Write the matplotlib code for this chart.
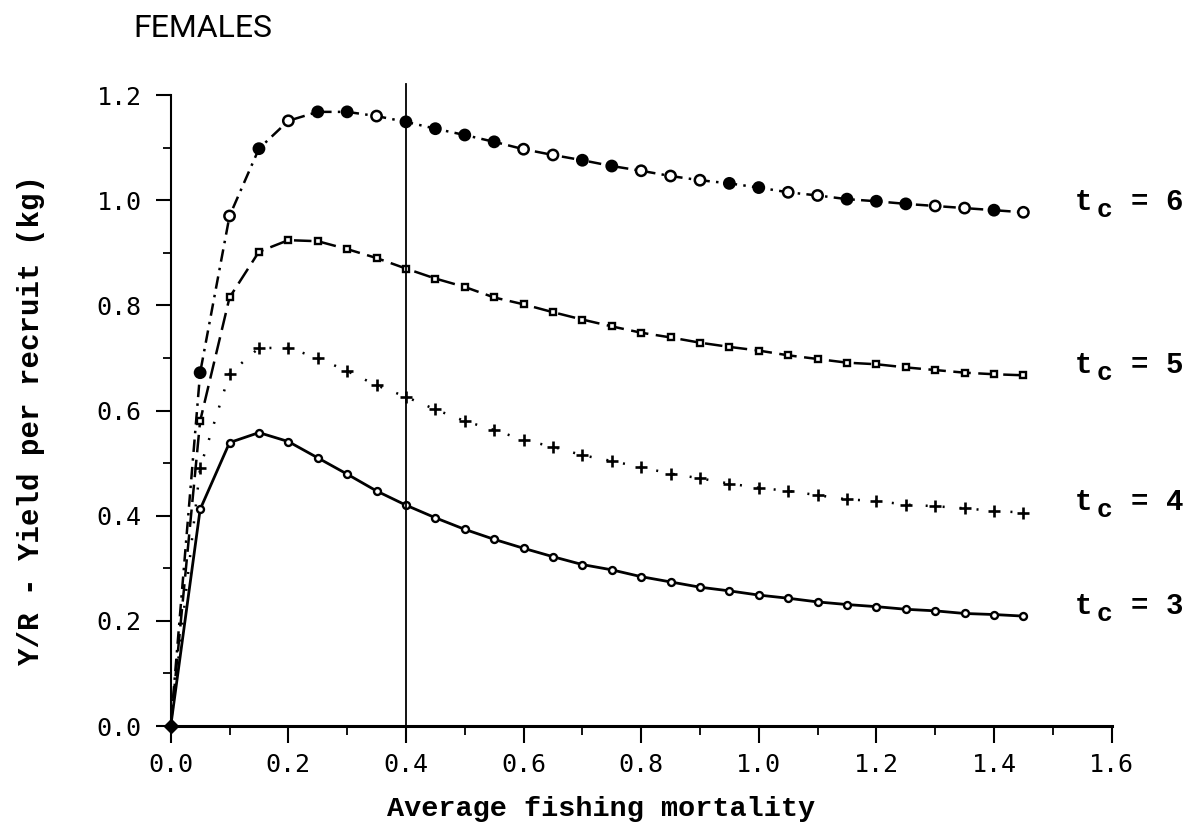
import matplotlib
matplotlib.use("Agg")
import matplotlib.pyplot as plt
from matplotlib.ticker import MultipleLocator
from matplotlib.transforms import offset_copy

# fishing mortality grid (x) and yield per recruit for each age at first capture
F = [0.00, 0.05, 0.10, 0.15, 0.20, 0.25, 0.30, 0.35, 0.40, 0.45,
     0.50, 0.55, 0.60, 0.65, 0.70, 0.75, 0.80, 0.85, 0.90, 0.95,
     1.00, 1.05, 1.10, 1.15, 1.20, 1.25, 1.30, 1.35, 1.40, 1.45]

yr_tc6 = [0, 0.672, 0.970, 1.098, 1.151, 1.168, 1.168, 1.160, 1.149, 1.136,
          1.124, 1.111, 1.097, 1.086, 1.076, 1.065, 1.056, 1.046, 1.038, 1.032,
          1.024, 1.015, 1.009, 1.002, 0.998, 0.993, 0.989, 0.985, 0.981, 0.977]
yr_tc5 = [0, 0.580, 0.815, 0.902, 0.924, 0.922, 0.907, 0.890, 0.870, 0.851,
          0.835, 0.815, 0.802, 0.787, 0.773, 0.760, 0.748, 0.739, 0.729, 0.721,
          0.714, 0.705, 0.698, 0.691, 0.688, 0.682, 0.677, 0.672, 0.669, 0.667]
yr_tc4 = [0, 0.491, 0.670, 0.719, 0.719, 0.700, 0.675, 0.648, 0.626, 0.602,
          0.580, 0.563, 0.544, 0.531, 0.515, 0.504, 0.492, 0.480, 0.471, 0.461,
          0.453, 0.447, 0.439, 0.431, 0.428, 0.421, 0.418, 0.414, 0.409, 0.406]
yr_tc3 = [0, 0.412, 0.539, 0.558, 0.541, 0.510, 0.479, 0.447, 0.420, 0.396,
          0.374, 0.355, 0.338, 0.322, 0.307, 0.297, 0.284, 0.274, 0.264, 0.257,
          0.249, 0.243, 0.236, 0.231, 0.227, 0.222, 0.219, 0.214, 0.212, 0.209]

tc_labels = ["6", "5", "4", "3"]
F_ref = 0.4

x_ticks = [0.0, 0.2, 0.4, 0.6, 0.8, 1.0, 1.2, 1.4, 1.6]
y_ticks = [0.0, 0.2, 0.4, 0.6, 0.8, 1.0, 1.2]

# which tc=6 markers the plotter drew filled
tc6_fill = "xFOFOFFOFFFFOOFFOOOFFOOFFFOOFO"

plt.rcParams["font.family"] = ["DejaVu Sans Mono"]
mono_bold = dict(fontfamily="Liberation Mono", fontweight="bold")

fig = plt.figure(figsize=(11.99, 8.25), dpi=100)
ax = fig.add_axes([0.1424, 0.12, 0.7847, 0.7648])

# tc = 6 : dash-dot with circles
ax.plot(F, yr_tc6, color="black", lw=1.8, dashes=(5, 2.5, 1, 2.5), clip_on=False)
face = ["black" if c == "F" else "white" for c in tc6_fill[1:]]
ax.scatter(F[1:], yr_tc6[1:], s=55, facecolors=face, edgecolors="black",
           linewidths=1.8, zorder=3, clip_on=False)

# tc = 5 : dashed with small squares
ax.plot(F, yr_tc5, color="black", lw=1.8, dashes=(7, 3), clip_on=False)
ax.plot(F[1:], yr_tc5[1:], ls="none", marker="s", ms=4.5,
        mfc="white", mec="black", mew=1.7)

# tc = 4 : dotted with plus
ax.plot(F, yr_tc4, color="black", lw=1.8, dashes=(0.8, 6), clip_on=False)
ax.plot(F[1:], yr_tc4[1:], ls="none", marker="+", ms=8, mew=1.9, color="black")

# tc = 3 : solid with small circles
ax.plot(F, yr_tc3, color="black", lw=2.0, marker="o", ms=5,
        mfc="white", mec="black", mew=1.7, clip_on=False)

# common origin
ax.plot([F[0]], [yr_tc3[0]], marker="D", ms=7, color="black", clip_on=False, zorder=4)

# reference mortality line
ax.axvline(F_ref, ymin=0, ymax=1.018, color="black", lw=1.3, clip_on=False)

# curve labels "t_c = n" at the end of each curve
x_lab = F[-1] + 0.088
for ys, lab in zip([yr_tc6, yr_tc5, yr_tc4, yr_tc3], tc_labels):
    y_lab = ys[-1] + 0.004
    ax.text(x_lab, y_lab, "t", fontsize=21, ha="left", va="baseline", **mono_bold)
    ax.text(x_lab, y_lab, "c", fontsize=19, ha="left", va="baseline",
            transform=offset_copy(ax.transData, fig, x=21, y=-7, units="dots"),
            **mono_bold)
    ax.text(x_lab, y_lab, "= " + lab, fontsize=21, ha="left", va="baseline",
            transform=offset_copy(ax.transData, fig, x=56, y=0, units="dots"),
            **mono_bold)

ax.set_xlim(0, 1.6)
ax.set_ylim(0, 1.2)
ax.set_xticks(x_ticks)
ax.set_yticks(y_ticks)
ax.set_xticklabels([f"{v:.1f}" for v in x_ticks])
ax.set_yticklabels([f"{v:.1f}" for v in y_ticks])
ax.xaxis.set_minor_locator(MultipleLocator(0.1))
ax.yaxis.set_minor_locator(MultipleLocator(0.1))
ax.tick_params(axis="x", which="major", direction="out", length=12.5, width=1.5,
               labelsize=18, pad=7)
ax.tick_params(axis="x", which="minor", direction="out", length=6.5, width=1.3)
ax.tick_params(axis="y", which="major", direction="out", length=11, width=1.5,
               labelsize=18, pad=10)
ax.tick_params(axis="y", which="minor", direction="out", length=5.5, width=1.3)

for side in ["top", "right"]:
    ax.spines[side].set_visible(False)
ax.spines["left"].set_linewidth(1.5)
ax.spines["bottom"].set_linewidth(2.2)

fig.text(0.501, 0.011, "Average fishing mortality", fontsize=20.5,
         ha="center", va="baseline", **mono_bold)
fig.text(0.026, 0.491, "Y/R - Yield per recruit (kg)", fontsize=21,
         rotation=90, ha="center", va="center", **mono_bold)
fig.text(0.111, 0.955, "FEMALES", fontsize=23, fontfamily="Roboto",
         ha="left", va="baseline")

fig.savefig("out.png", dpi=100)
